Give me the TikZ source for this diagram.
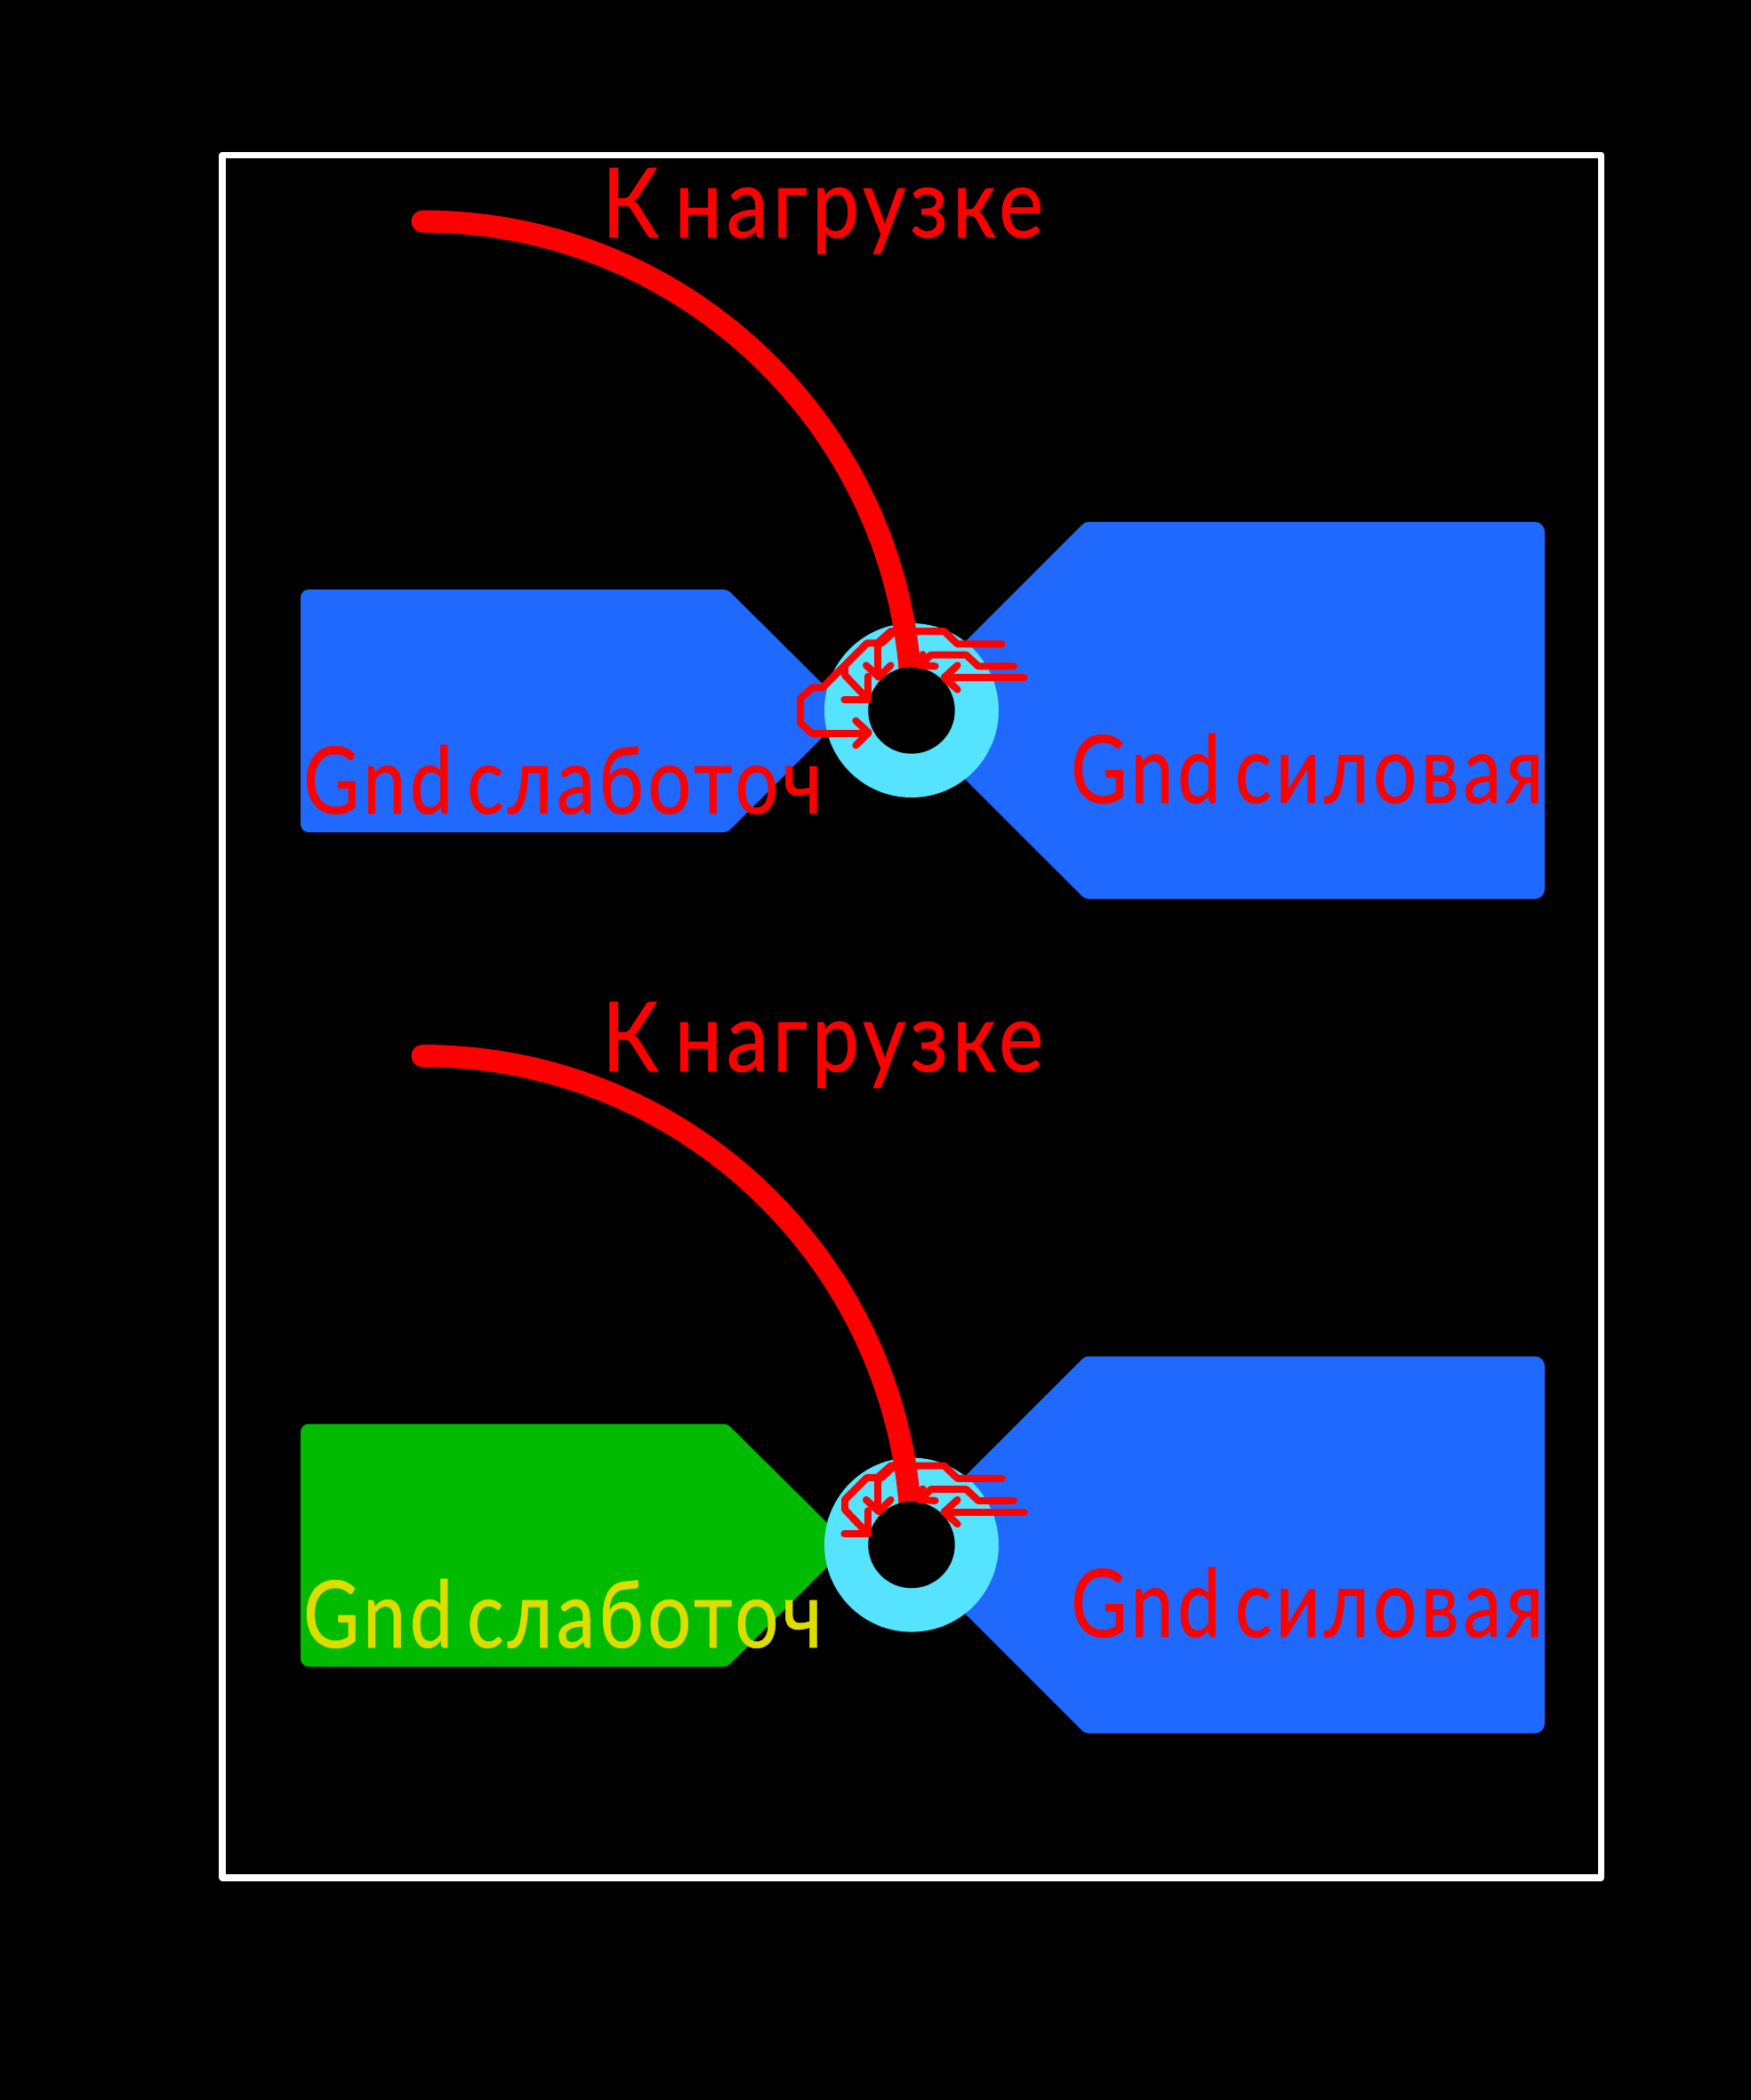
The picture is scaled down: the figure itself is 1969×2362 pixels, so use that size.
\documentclass[tikz,border=0pt]{standalone}
\usepackage{graphicx}
\usepackage{fontspec}
\setmainfont[LetterSpace=5,WordSpace=0.6,FakeBold=0.6]{Lato}
\definecolor{padblue}{HTML}{2069FF}
\definecolor{padgreen}{HTML}{00BB00}
\definecolor{ringcyan}{HTML}{55E3FF}
\definecolor{wirered}{HTML}{FF0000}
\definecolor{labelyellow}{HTML}{DDDD00}
\tikzset{
  trace/.style={draw=wirered,line width=0.08cm,line cap=round,line join=round},
  wire/.style={draw=wirered,line width=0.25cm,line cap=round},
  frameline/.style={draw=white,line width=0.076cm,line join=round},
  lbl/.style={anchor=base west,inner sep=0pt,outer sep=0pt}
}
\newcommand{\fitlabel}[3]{\resizebox{#1cm}{#2cm}{\fontsize{30}{36}\selectfont #3}}
% one ring with its thick wire, hole and the pads behind it
\newcommand{\padset}[1]{%
  \fill[#1] (338,700) [rounded corners=0.09cm] -- (338,663) [rounded corners=0.04cm] -- (818,663) [sharp corners] -- (955,799) [rounded corners=0.04cm] -- (818,936) [rounded corners=0.09cm] -- (338,936) [sharp corners] -- cycle;
  \fill[padblue] (1737,700) [rounded corners=0.11cm] -- (1737,587) [rounded corners=0.04cm] -- (1220,587) [sharp corners] -- (1008,799) [rounded corners=0.04cm] -- (1220,1011) [rounded corners=0.11cm] -- (1737,1011) [sharp corners] -- cycle;
  \fill[ringcyan] (1025,799) circle[radius=98];
  \draw[wire] (475,249) arc[start angle=-90,end angle=0,radius=550];
  \fill[black] (1025,799) circle[radius=48.7];
}
% zoomed coordinates: px = 850+u/3, py = 640+v/3
\newcommand{\zp}[2]{({850+#1/3},{640+#2/3})}
\newcommand{\tracesCommon}{%
  \draw[trace] \zp{830}{253} -- \zp{680}{253} -- \zp{635}{210} -- \zp{455}{210} -- \zp{410}{250} -- \zp{375}{250} -- \zp{300}{325};
  \draw[trace] \zp{300}{325} -- \zp{300}{358} -- \zp{375}{437};
  \draw[trace] \zp{298}{440} -- \zp{378}{440};
  \draw[trace] \zp{378}{362} -- \zp{378}{440};
  \draw[trace] \zp{412}{250} -- \zp{412}{362};
  \draw[trace] \zp{372}{325} -- \zp{415}{365} -- \zp{455}{325};
  \draw[trace] \zp{462}{215} -- \zp{425}{250};
  \draw[trace] \zp{870}{328} -- \zp{750}{328} -- \zp{710}{290} -- \zp{590}{290} -- \zp{552}{325};
  \draw[trace] \zp{605}{328} -- \zp{552}{325} -- \zp{563}{288};
  \draw[trace] \zp{905}{366} -- \zp{635}{366};
  \draw[trace] \zp{680}{325} -- \zp{635}{366} -- \zp{680}{407};
}
\begin{document}
\begin{tikzpicture}[x=0.01cm,y=-0.01cm]
\useasboundingbox[fill=black] (0,0) rectangle (1969,2362);
% outer frame
\draw[frameline] (250.3,174.3) rectangle (1800.5,2112);
% upper group
\padset{padblue}
\tracesCommon
\draw[trace] \zp{300}{325} -- \zp{225}{400} -- \zp{190}{400} -- \zp{150}{437} -- \zp{150}{520} -- \zp{190}{555} -- \zp{378}{555};
\draw[trace] \zp{337}{512} -- \zp{380}{552} -- \zp{337}{595};
% lower group
\begin{scope}[yshift=-9.38cm]
\padset{padgreen}
\tracesCommon
\end{scope}
% labels
\node[lbl,text=wirered] (loadA) at (677,267) {\fitlabel{4.96}{0.78}{К нагрузке}};
\node[lbl,text=wirered] (loadB) at (677,1205) {\fitlabel{4.96}{0.78}{К нагрузке}};
\node[lbl,text=wirered] (lowA) at (341,915) {\fitlabel{5.83}{0.77}{Gnd слаботоч}};
\node[lbl,text=labelyellow] (lowB) at (341,1853) {\fitlabel{5.83}{0.77}{Gnd слаботоч}};
\node[lbl,text=wirered] (powA) at (1204,903) {\fitlabel{5.31}{0.78}{Gnd силовая}};
\node[lbl,text=wirered] (powB) at (1204,1841) {\fitlabel{5.31}{0.78}{Gnd силовая}};
\end{tikzpicture}
\end{document}
